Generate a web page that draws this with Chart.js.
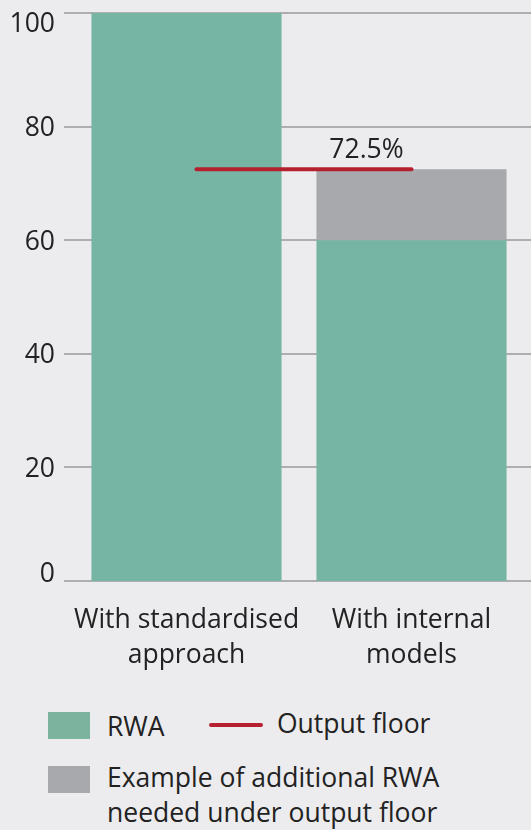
<!DOCTYPE html>
<html>
<head>
<meta charset="utf-8">
<script src="https://cdn.jsdelivr.net/npm/chart.js@4"></script>
<style>
  html, body { margin: 0; padding: 0; background: #ececee; }
  body { width: 531px; height: 830px; position: relative; overflow: hidden;
         font-family: "Open Sans", "Noto Sans", sans-serif; color: #222; }
  #chartBox { position: absolute; left: 0; top: 0; width: 531px; height: 690px; }
  .txt { position: absolute; font-size: 26.5px; line-height: 35px; white-space: nowrap; }
  .sw { position: absolute; width: 42px; height: 27px; }
  .ln { position: absolute; width: 54px; height: 4px; border-radius: 2px; }
</style>
</head>
<body>
<div id="chartBox"><canvas id="c" width="531" height="690"></canvas></div>

<div class="sw" style="left:48px; top:712px; background:#7cb39f;"></div>
<div class="txt" style="left:107px; top:709px;">RWA</div>
<div class="ln" style="left:209px; top:723px; background:#b5202e;"></div>
<div class="txt" style="left:277px; top:706px;">Output floor</div>
<div class="sw" style="left:48px; top:766px; background:#a8a9ac;"></div>
<div class="txt" style="left:107px; top:760px;">Example of additional RWA<br>needed under output floor</div>

<script>
// Categories and values
const categories = [['With standardised', 'approach'], ['With internal', 'models']];
const rwa = [100, 60];
const additionalRwa = [0, 12.5];
const outputFloor = 72.5;
const outputFloorLabel = '72.5%';
const yTicks = [0, 20, 40, 60, 80, 100];

const GREEN = '#76b4a3';
const GREY = '#a8a9ac';
const RED = '#b5202e';
const GRID = '#aeaeb0';
const TEXT = '#222222';
const FONT = '"Open Sans", "Noto Sans", sans-serif';
const FONT_SIZE = 26.5;

// Grid lines and y labels drawn behind the bars; floor line on top.
const decorations = {
  id: 'decorations',
  beforeDatasetsDraw(chart) {
    const { ctx, chartArea: a, scales: { y } } = chart;
    ctx.save();
    ctx.strokeStyle = GRID;
    ctx.lineWidth = 2;
    yTicks.forEach(v => {
      const py = Math.round(y.getPixelForValue(v));
      ctx.beginPath();
      ctx.moveTo(a.left - 10, py);
      ctx.lineTo(chart.width, py);
      ctx.stroke();
    });
    ctx.fillStyle = TEXT;
    ctx.font = FONT_SIZE + 'px ' + FONT;
    ctx.textAlign = 'right';
    ctx.textBaseline = 'alphabetic';
    yTicks.forEach(v => {
      let base = y.getPixelForValue(v) + 9.3;
      base = Math.max(a.top + 19, Math.min(a.bottom + 1, base));
      ctx.fillText(String(v), 55, base);
    });
    ctx.restore();
  },
  afterDatasetsDraw(chart) {
    const { ctx, scales: { x, y } } = chart;
    const py = y.getPixelForValue(outputFloor);
    const x0 = x.getPixelForValue(0) + 10;
    const x1 = x.getPixelForValue(1);
    ctx.save();
    ctx.strokeStyle = RED;
    ctx.lineWidth = 4;
    ctx.lineCap = 'round';
    ctx.beginPath();
    ctx.moveTo(x0, py);
    ctx.lineTo(x1, py);
    ctx.stroke();
    ctx.fillStyle = TEXT;
    ctx.font = FONT_SIZE + 'px ' + FONT;
    ctx.textAlign = 'center';
    ctx.textBaseline = 'alphabetic';
    ctx.fillText(outputFloorLabel, x1 - 45, py - 11);
    ctx.restore();
  }
};

new Chart(document.getElementById('c'), {
  type: 'bar',
  data: {
    labels: categories,
    datasets: [
      { label: 'RWA', data: rwa, backgroundColor: GREEN, borderWidth: 0 },
      { label: 'Example of additional RWA needed under output floor', data: additionalRwa, backgroundColor: GREY, borderWidth: 0 }
    ]
  },
  options: {
    responsive: false,
    animation: false,
    devicePixelRatio: 1,
    layout: { padding: { left: 74, right: 7, top: 13, bottom: 9 } },
    datasets: { bar: { barPercentage: 0.845, categoryPercentage: 1 } },
    scales: {
      x: {
        stacked: true,
        grid: { display: false },
        border: { display: false },
        ticks: {
          color: TEXT,
          font: { family: FONT, size: FONT_SIZE, lineHeight: 1.33 },
          padding: 14,
          maxRotation: 0,
          autoSkip: false
        },
        afterFit(scale) { scale.height = 100; }
      },
      y: {
        stacked: true,
        display: false,
        min: 0,
        max: 100
      }
    },
    plugins: { legend: { display: false }, tooltip: { enabled: false } }
  },
  plugins: [decorations]
});
</script>
</body>
</html>
